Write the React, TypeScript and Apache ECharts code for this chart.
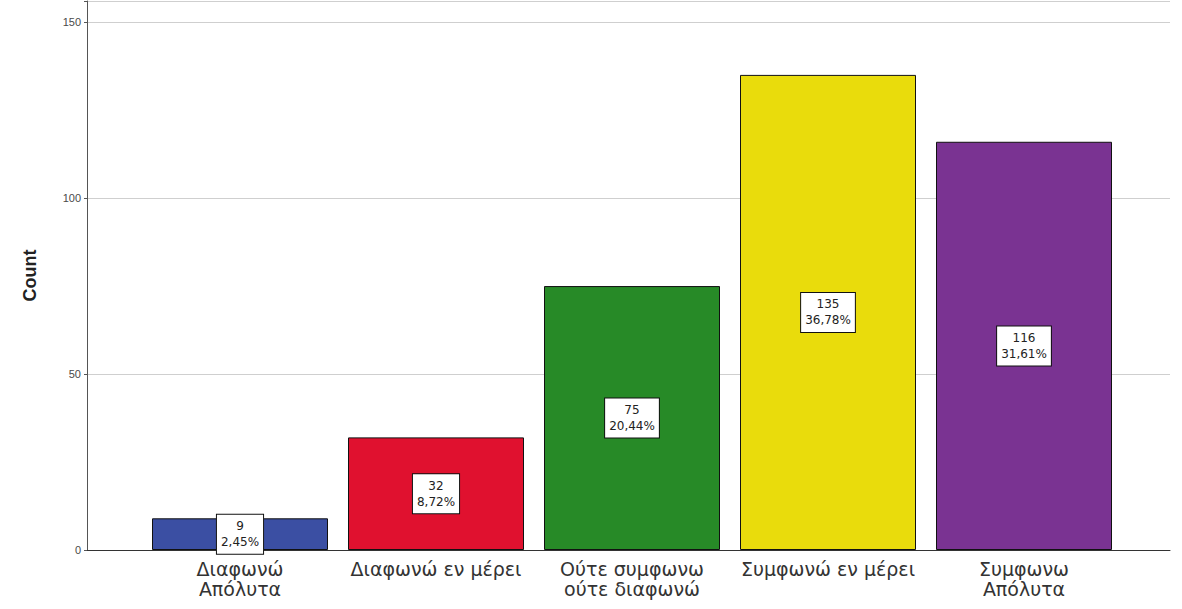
import React, { useEffect, useRef } from "react";
import * as echarts from "echarts";

const categories = [
  "Διαφωνώ\nΑπόλυτα",
  "Διαφωνώ εν μέρει",
  "Ούτε συμφωνω\nούτε διαφωνώ",
  "Συμφωνώ εν μέρει",
  "Συμφωνω\nΑπόλυτα",
];
const counts = [9, 32, 75, 135, 116];
const percents = ["2,45%", "8,72%", "20,44%", "36,78%", "31,61%"];
const barColors = ["#3b4fa3", "#e0112f", "#278a27", "#e9dc0c", "#7a3392"];
const yTicks = [0, 50, 100, 150];

export default function App() {
  const ref = useRef<HTMLDivElement>(null);
  useEffect(() => {
    if (!ref.current) return;
    const chart = echarts.init(ref.current, undefined, { renderer: "svg" });
    const font = "Liberation Sans, Arial, sans-serif";
    const wide = "DejaVu Sans, sans-serif";
    chart.setOption({
      animation: false,
      backgroundColor: "#ffffff",
      grid: [
        { left: 87, top: 1, width: 1083, height: 549 },
        { left: 142, top: 1, width: 980, height: 549 },
      ],
      xAxis: [
        {
          gridIndex: 0,
          type: "value",
          min: 0,
          max: 1,
          axisLine: { show: true, onZero: false, lineStyle: { color: "#333", width: 1 } },
          axisTick: { show: false },
          axisLabel: { show: false },
          splitLine: { show: false },
        },
        {
          gridIndex: 1,
          type: "category",
          data: categories,
          axisLine: { show: false },
          axisTick: { show: false },
          axisLabel: {
            color: "#333",
            fontSize: 19,
            lineHeight: 20,
            margin: 9,
            fontFamily: wide,
            interval: 0,
          },
        },
      ],
      yAxis: [
        {
          gridIndex: 0,
          type: "value",
          min: 0,
          max: 156,
          interval: 50,
          name: "Count",
          nameLocation: "middle",
          nameGap: 48,
          nameTextStyle: { fontSize: 18, fontWeight: "bold", color: "#222", fontFamily: font },
          axisLine: { show: true, lineStyle: { color: "#555", width: 1 } },
          axisTick: { show: true, length: 3, lineStyle: { color: "#555" } },
          axisLabel: {
            color: "#4a4a4a",
            fontSize: 11,
            margin: 6,
            fontFamily: font,
            formatter: (v: number) => (yTicks.includes(v) ? String(v) : ""),
          },
          splitLine: { show: true, lineStyle: { color: "#cfcfcf", width: 1 } },
        },
        {
          gridIndex: 1,
          type: "value",
          min: 0,
          max: 156,
          show: false,
          splitLine: { show: false },
        },
      ],
      series: [
        {
          type: "bar",
          xAxisIndex: 1,
          yAxisIndex: 1,
          barWidth: 176,
          data: counts.map((v, i) => ({
            value: v,
            itemStyle: { color: barColors[i], borderColor: "#111", borderWidth: 1 },
          })),
          label: {
            show: true,
            position: "inside",
            formatter: (p: any) => `${p.value}\n${percents[p.dataIndex]}`,
            color: "#222",
            fontSize: 12,
            lineHeight: 16,
            fontFamily: wide,
            align: "center",
            backgroundColor: "#ffffff",
            borderColor: "#111",
            borderWidth: 1,
            padding: [4, 4, 3, 4],
          },
        },
      ],
    });
    return () => chart.dispose();
  }, []);
  return (
    <div
      ref={ref}
      style={{ position: "fixed", left: 0, top: 0, width: 1182, height: 609 }}
    />
  );
}
